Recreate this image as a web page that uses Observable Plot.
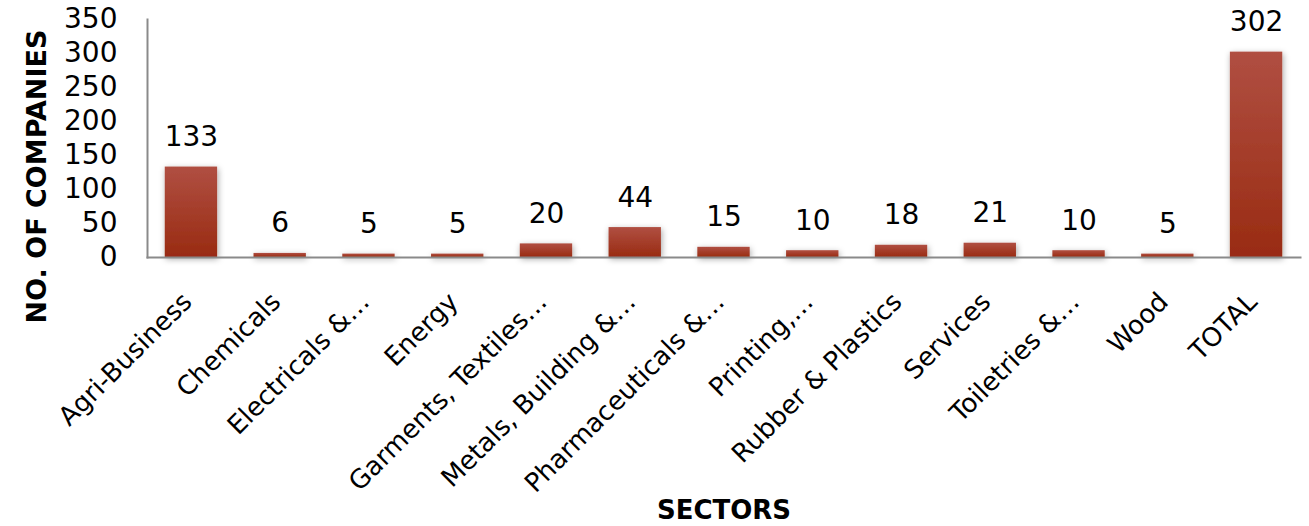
<!DOCTYPE html>
<html>
<head>
<meta charset="utf-8">
<script src="https://cdn.jsdelivr.net/npm/d3@7"></script>
<script src="https://cdn.jsdelivr.net/npm/@observablehq/plot@0.6"></script>
<style>
  html, body { margin: 0; padding: 0; background: #fff; }
</style>
</head>
<body>
<div id="chart"></div>
<script>
const sectors = [
  "Agri-Business", "Chemicals", "Electricals &…", "Energy", "Garments, Textiles…",
  "Metals, Building &…", "Pharmaceuticals &…", "Printing,…", "Rubber & Plastics",
  "Services", "Toiletries &…", "Wood", "TOTAL"
];
const companies = [133, 6, 5, 5, 20, 44, 15, 10, 18, 21, 10, 5, 302];
const yTicks = [0, 50, 100, 150, 200, 250, 300, 350];
const xTitle = "SECTORS";
const yTitle = "NO. OF COMPANIES";

const data = sectors.map((s, i) => ({sector: s, value: companies[i]}));

const chart = Plot.plot({
  width: 1309,
  height: 526,
  marginTop: 19,
  marginBottom: 269,
  marginLeft: 147,
  marginRight: 9,
  style: {fontFamily: "DejaVu Sans", fontSize: "26px", color: "#000", background: "#fff"},
  x: {domain: sectors, paddingInner: 0.41, paddingOuter: 0.2, round: false, label: null},
  y: {domain: [0, 350], label: null},
  marks: [
    Plot.barY(data, {x: "sector", y: "value", fill: "url(#barGrad)"}),
    Plot.frame({anchor: "left", stroke: "#8a8a8a", strokeWidth: 2}),
    Plot.frame({anchor: "bottom", stroke: "#8a8a8a", strokeWidth: 2}),
    Plot.axisY({ticks: yTicks, tickSize: 0, tickPadding: 30, fontSize: 28, label: null}),
    Plot.axisX({tickSize: 0, tickRotate: -45, tickPadding: 40, dx: -4, fontSize: 26, label: null}),
    Plot.text(data, {x: "sector", y: "value", text: d => String(d.value), dy: -30, fontSize: 28, lineAnchor: "middle"}),
    Plot.text([yTitle], {frameAnchor: "left", text: d => d, rotate: -90, dx: -110, dy: 38, textAnchor: "middle", lineAnchor: "middle", fontSize: 27, fontWeight: "bold"}),
    Plot.text([xTitle], {frameAnchor: "bottom", text: d => d, dy: 253, textAnchor: "middle", lineAnchor: "middle", fontSize: 26, fontWeight: "bold"})
  ]
});

const svg = d3.select(chart);
const defs = svg.insert("defs", ":first-child");
const grad = defs.append("linearGradient").attr("id", "barGrad").attr("x1", 0).attr("y1", 0).attr("x2", 0).attr("y2", 1);
grad.append("stop").attr("offset", "0%").attr("stop-color", "#b04f42");
grad.append("stop").attr("offset", "100%").attr("stop-color", "#992b12");
const f = defs.append("filter").attr("id", "barShadow").attr("x", "-30%").attr("y", "-30%").attr("width", "160%").attr("height", "160%");
f.append("feDropShadow").attr("dx", 1).attr("dy", 2).attr("stdDeviation", 3).attr("flood-color", "#000").attr("flood-opacity", 0.35);
svg.selectAll('g[aria-label="bar"]').attr("filter", "url(#barShadow)");

document.getElementById("chart").appendChild(chart);
</script>
</body>
</html>
